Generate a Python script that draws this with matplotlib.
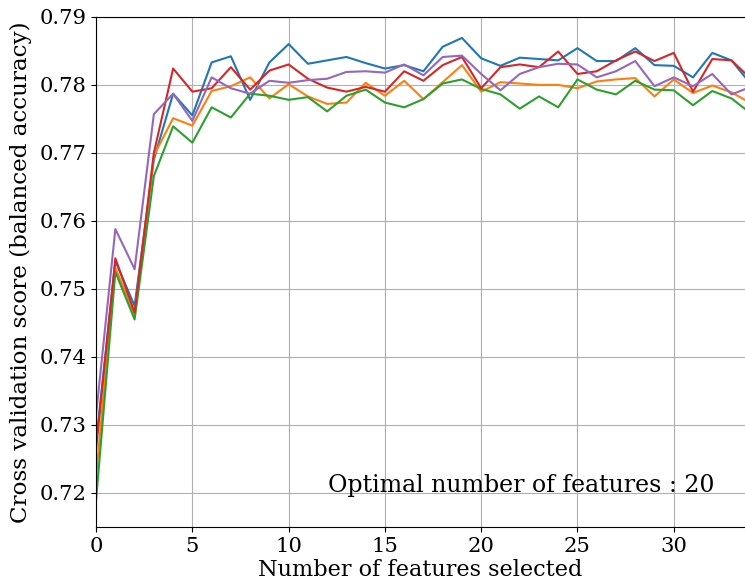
import numpy as np
import matplotlib
matplotlib.use("Agg")
import matplotlib.pyplot as plt

plt.rcParams['font.family'] = 'DejaVu Serif'
plt.rcParams['font.size'] = 16

# number of features selected, one point per step
n_features = list(range(35))

# cross validation scores, one list per fold
fold_1 = [0.7275, 0.7541, 0.7475, 0.7690, 0.7787, 0.7755, 0.7833, 0.7842, 0.7778, 0.7833,
          0.7860, 0.7831, 0.7836, 0.7841, 0.7832, 0.7824, 0.7829, 0.7820, 0.7856, 0.7869,
          0.7839, 0.7828, 0.7840, 0.7838, 0.7836, 0.7854, 0.7835, 0.7835, 0.7854, 0.7829,
          0.7828, 0.7811, 0.7847, 0.7836, 0.7801]
fold_2 = [0.7225, 0.7531, 0.7462, 0.7696, 0.7751, 0.7740, 0.7791, 0.7798, 0.7811, 0.7780,
          0.7801, 0.7783, 0.7772, 0.7774, 0.7803, 0.7784, 0.7806, 0.7779, 0.7804, 0.7829,
          0.7790, 0.7804, 0.7802, 0.7800, 0.7800, 0.7795, 0.7805, 0.7808, 0.7810, 0.7783,
          0.7808, 0.7788, 0.7799, 0.7789, 0.7773]
fold_3 = [0.7190, 0.7525, 0.7455, 0.7666, 0.7739, 0.7715, 0.7767, 0.7752, 0.7787, 0.7784,
          0.7778, 0.7782, 0.7761, 0.7784, 0.7793, 0.7774, 0.7767, 0.7779, 0.7802, 0.7808,
          0.7794, 0.7786, 0.7765, 0.7783, 0.7767, 0.7808, 0.7793, 0.7786, 0.7806, 0.7793,
          0.7792, 0.7770, 0.7791, 0.7780, 0.7758]
fold_4 = [0.7265, 0.7545, 0.7465, 0.7700, 0.7824, 0.7790, 0.7795, 0.7826, 0.7793, 0.7821,
          0.7830, 0.7809, 0.7796, 0.7790, 0.7797, 0.7790, 0.7820, 0.7806, 0.7829, 0.7841,
          0.7795, 0.7826, 0.7830, 0.7826, 0.7849, 0.7816, 0.7820, 0.7836, 0.7849, 0.7835,
          0.7847, 0.7790, 0.7838, 0.7836, 0.7809]
fold_5 = [0.7315, 0.7588, 0.7529, 0.7757, 0.7787, 0.7747, 0.7811, 0.7795, 0.7787, 0.7806,
          0.7803, 0.7807, 0.7809, 0.7819, 0.7820, 0.7818, 0.7830, 0.7814, 0.7841, 0.7843,
          0.7816, 0.7792, 0.7816, 0.7826, 0.7831, 0.7830, 0.7811, 0.7820, 0.7835, 0.7798,
          0.7811, 0.7798, 0.7816, 0.7786, 0.7797]

optimal_n = 20

fig = plt.figure(figsize=(7.45, 5.81), dpi=100)
ax = fig.add_axes([0.129, 0.093, 0.871, 0.878])

for scores in [fold_1, fold_2, fold_3, fold_4, fold_5]:
    ax.plot(n_features, scores, linewidth=1.5)

ax.set_xlim(0, 33.7)
ax.set_ylim(0.715, 0.79)
ax.set_xticks([0, 5, 10, 15, 20, 25, 30])
ax.tick_params(labelsize=15.2)
ax.grid(True)
ax.spines['right'].set_visible(False)

ax.set_xlabel('Number of features selected', fontsize=16.1, labelpad=2.5)
ax.set_ylabel('Cross validation score (balanced accuracy)', fontsize=16.6, labelpad=5)
ax.text(12.03, 0.7202, f'Optimal number of features : {optimal_n}', fontsize=17)

fig.savefig('out.png', dpi=100)
